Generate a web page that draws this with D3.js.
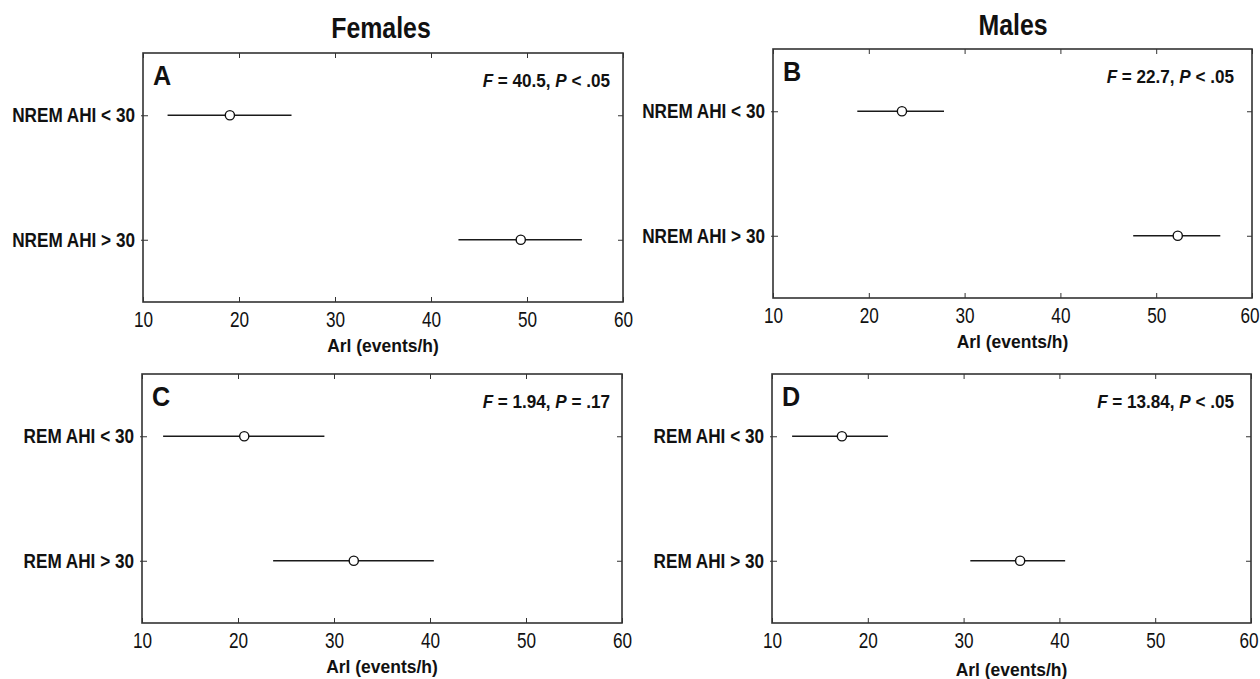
<!DOCTYPE html>
<html>
<head>
<meta charset="utf-8">
<script src="https://cdn.jsdelivr.net/npm/d3@7"></script>
<style>
  body { margin: 0; background: #fff; }
  text { font-family: "Liberation Sans", Arial, sans-serif; fill: #111; }
</style>
</head>
<body>
<div class="chart"></div>
<script>
// values
var panelLetters = ["A", "B", "C", "D"];
var groupTitles = ["Females", "Males"];
var nremCats = ["NREM AHI < 30", "NREM AHI > 30"];
var remCats = ["REM AHI < 30", "REM AHI > 30"];
var xTicks = [10, 20, 30, 40, 50, 60];

var meanA = [19.05, 49.35], lowA = [12.56, 42.86], highA = [25.47, 55.72];
var meanB = [23.46, 52.25], lowB = [18.8, 47.6], highB = [27.85, 56.69];
var meanC = [20.65, 32.06], lowC = [12.2, 23.66], highC = [29.0, 40.4];
var meanD = [17.3, 35.9], lowD = [12.1, 30.7], highD = [22.1, 40.6];

var statF = ["40.5", "22.7", "1.94", "13.84"];
var statP = ["< .05", "< .05", "= .17", "< .05"];
var xLabel = "Arl (events/h)";

var svgWidth = 1260, svgHeight = 679;

var svg = d3.select(".chart")
  .append("svg")
  .attr("width", svgWidth)
  .attr("height", svgHeight);

// squeeze text horizontally (the figure uses a narrow typeface)
function narrow(sel, s) {
  sel.each(function() {
    var t = d3.select(this);
    var x = +t.attr("x") || 0;
    t.attr("x", x / s).attr("transform", `scale(${s},1)`);
  });
}

// frame boxes for each panel
var boxes = [
  {x0: 143, y0: 53, x1: 623, y1: 302, label: 352, statRight: 13},
  {x0: 773, y0: 49, x1: 1252, y1: 298, label: 348, statRight: 18},
  {x0: 142, y0: 374, x1: 622, y1: 623, label: 673, statRight: 12},
  {x0: 772, y0: 374, x1: 1251, y1: 623, label: 676, statRight: 17}
];

var panels = [
  {cats: nremCats, mean: meanA, low: lowA, high: highA},
  {cats: nremCats, mean: meanB, low: lowB, high: highB},
  {cats: remCats, mean: meanC, low: lowC, high: highC},
  {cats: remCats, mean: meanD, low: lowD, high: highD}
];

// column titles
var t1 = svg.append("text")
  .attr("x", 381).attr("y", 38)
  .attr("text-anchor", "middle")
  .style("font-size", "30px").style("font-weight", "bold")
  .text(groupTitles[0]);
var t2 = svg.append("text")
  .attr("x", 1013).attr("y", 35)
  .attr("text-anchor", "middle")
  .style("font-size", "30px").style("font-weight", "bold")
  .text(groupTitles[1]);
narrow(t1, 0.83);
narrow(t2, 0.83);

panels.forEach(function(p, i) {
  var b = boxes[i];
  var width = b.x1 - b.x0, height = b.y1 - b.y0;

  var g = svg.append("g")
    .attr("transform", `translate(${b.x0}, ${b.y0})`);

  var xScale = d3.scaleLinear().domain([10, 60]).range([0, width]);
  var yScale = d3.scalePoint().domain(p.cats).range([0, height]).padding(0.5);

  // bottom axis with tick labels
  var xAxis = d3.axisBottom(xScale).tickValues(xTicks).tickSizeInner(-5).tickSizeOuter(0);
  var xg = g.append("g")
    .attr("transform", `translate(0, ${height})`)
    .call(xAxis);
  xg.select(".domain").remove();
  xg.selectAll("text")
    .attr("y", 25).attr("dy", null)
    .style("font-size", "22px").style("font-family", null).attr("fill", "#222");
  // keep the last label inside the page on the right column
  if (b.x1 > 1240) {
    xg.selectAll("text").filter(d => d === xTicks[xTicks.length - 1]).attr("x", -2.5);
  }
  narrow(xg.selectAll("text"), 0.78);
  xg.selectAll("line").attr("stroke", "#333");

  // top ticks
  var tg = g.append("g").call(d3.axisTop(xScale).tickValues(xTicks).tickSizeInner(-5).tickSizeOuter(0).tickFormat(""));
  tg.select(".domain").remove();
  tg.selectAll("line").attr("stroke", "#333");

  // left axis with category labels
  var yAxis = d3.axisLeft(yScale).tickSizeInner(5).tickSizeOuter(0).tickPadding(3);
  var yg = g.append("g").call(yAxis);
  yg.select(".domain").remove();
  yg.selectAll("text")
    .style("font-size", "19.5px").style("font-weight", "bold").style("font-family", null).attr("fill", "#111");
  narrow(yg.selectAll("text"), 0.88);
  yg.selectAll("line").attr("stroke", "#333").attr("x1", 5).attr("x2", -2);

  // right ticks
  var rg = g.append("g").attr("transform", `translate(${width}, 0)`)
    .call(d3.axisRight(yScale).tickSizeInner(-5).tickSizeOuter(0).tickFormat(""));
  rg.select(".domain").remove();
  rg.selectAll("line").attr("stroke", "#333");

  // frame
  g.append("rect")
    .attr("width", width).attr("height", height)
    .attr("fill", "none").attr("stroke", "#333").attr("stroke-width", 1.6);

  // error bars
  g.selectAll(".err")
    .data(p.cats)
    .enter()
    .append("line")
    .attr("class", "err")
    .attr("x1", (d, k) => xScale(p.low[k]))
    .attr("x2", (d, k) => xScale(p.high[k]))
    .attr("y1", d => yScale(d))
    .attr("y2", d => yScale(d))
    .attr("stroke", "#1a1a1a")
    .attr("stroke-width", 1.5);

  // means
  g.selectAll(".pt")
    .data(p.cats)
    .enter()
    .append("circle")
    .attr("class", "pt")
    .attr("cx", (d, k) => xScale(p.mean[k]))
    .attr("cy", d => yScale(d))
    .attr("r", 4.6)
    .attr("fill", "#fff")
    .attr("stroke", "#111")
    .attr("stroke-width", 1.4);

  // panel letter
  var lt = g.append("text")
    .attr("x", 10).attr("y", 32)
    .style("font-size", "28px").style("font-weight", "bold")
    .text(panelLetters[i]);
  narrow(lt, 0.9);

  // statistic
  var st = g.append("text")
    .attr("x", width - b.statRight).attr("y", 34)
    .attr("text-anchor", "end")
    .style("font-size", "19px").style("font-weight", "bold");
  st.append("tspan").style("font-style", "italic").text("F");
  st.append("tspan").text(" = " + statF[i] + ", ");
  st.append("tspan").style("font-style", "italic").text("P");
  st.append("tspan").text(" " + statP[i]);
  narrow(st, 0.9);

  // x label
  var xl = svg.append("text")
    .attr("x", (b.x0 + b.x1) / 2).attr("y", b.label)
    .attr("text-anchor", "middle")
    .style("font-size", "19px").style("font-weight", "bold")
    .text(xLabel);
  narrow(xl, 0.92);
});
</script>
</body>
</html>
